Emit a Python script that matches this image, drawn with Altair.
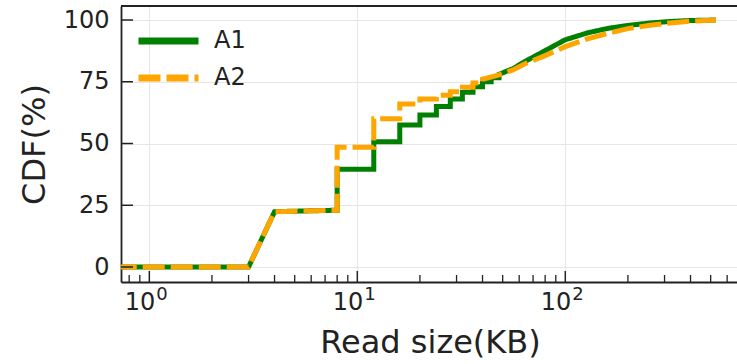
import altair as alt
import pandas as pd

# CDF of read sizes for two workloads (size in KB, cumulative %)
series_names = ["A1", "A2"]
series_colors = ["#008000", "#ffa500"]

a1_size = [0.5, 3, 4, 8, 8, 12, 12, 16, 16, 20, 20, 24, 24, 28, 28, 32, 32, 36, 36,
           40, 40, 44, 44, 48, 48, 56, 64, 80, 100, 128, 160, 200, 256, 320, 400, 530]
a1_cdf = [0, 0, 22.4, 23, 39.6, 39.6, 50.7, 50.7, 57.5, 57.5, 61.5, 61.5, 65, 65, 68, 68,
          70.8, 70.8, 73, 73, 75, 75, 76.6, 76.6, 78, 80.3, 83.2, 87.6, 92, 94.8, 96.6,
          97.8, 98.8, 99.4, 99.8, 100]

a2_size = [0.5, 3, 4, 8, 8, 12, 12, 16, 16, 20, 20, 24, 24, 28, 28, 32, 32, 36, 36,
           40, 40, 48, 56, 64, 80, 100, 128, 160, 200, 256, 320, 400, 530]
a2_cdf = [0, 0, 22.4, 23, 48.5, 48.5, 60, 60, 66, 66, 68, 68, 69.5, 69.5, 71, 71,
          72.8, 72.8, 74.5, 74.5, 76, 77.8, 79.8, 82.3, 85.6, 89.2, 92.4, 94.6, 96.5,
          97.9, 98.8, 99.5, 100]

# axis tick positions and decade labels
x_major = [1, 10, 100]
x_label_base = ["10", "10", "10"]
x_label_exp = ["0", "1", "2"]
x_minor = [0.8, 0.9, 2, 3, 4, 5, 6, 7, 8, 9, 20, 30, 40, 50, 60, 70, 80, 90,
           200, 300, 400, 500, 600]
y_major = [0, 25, 50, 75, 100]

W, H = 616, 276
INK = "#222222"
FONT = "DejaVu Sans"

rows = []
for name, sizes, cdfs in [("A1", a1_size, a1_cdf), ("A2", a2_size, a2_cdf)]:
    for i, (s, c) in enumerate(zip(sizes, cdfs)):
        rows.append({"series": name, "idx": i, "size": s, "cdf": c})
df = pd.DataFrame(rows)

x_scale = alt.Scale(type="log", domain=[0.7308, 669.2], nice=False)
y_scale = alt.Scale(domain=[-6.07, 105.67], nice=False, zero=False)

x_axis = alt.Axis(
    values=x_major, title="Read size(KB)", labels=False,
    titleX=309, titleY=70.7, titleBaseline="alphabetic", titleAlign="center",
)
y_axis = alt.Axis(
    values=y_major, title="CDF(%)", labelPadding=12,
    titleAngle=270, titleX=-77, titleY=H / 2,
    titleBaseline="alphabetic", titleAlign="center",
)

legend = alt.Legend(
    title=None, orient="none", legendX=14, legendY=16.5,
    symbolType="stroke", symbolSize=3600, symbolStrokeWidth=7,
    labelFont=FONT, labelFontSize=24, labelColor=INK, labelOffset=12,
    clipHeight=37, rowPadding=0, padding=0,
)

lines = alt.Chart(df).mark_line(clip=True, strokeWidth=5).encode(
    x=alt.X("size:Q", scale=x_scale, axis=x_axis),
    y=alt.Y("cdf:Q", scale=y_scale, axis=y_axis),
    color=alt.Color("series:N", scale=alt.Scale(domain=series_names, range=series_colors),
                    legend=legend),
    strokeDash=alt.StrokeDash("series:N",
                              scale=alt.Scale(domain=series_names, range=[[1, 0], [22, 6]]),
                              legend=legend),
    order=alt.Order("idx:Q"),
)

# inward-pointing tick marks
x_major_ticks = alt.Chart(pd.DataFrame({"size": x_major})).mark_rule(
    color=INK, strokeWidth=1.5).encode(
    x=alt.X("size:Q", scale=x_scale, axis=x_axis), y=alt.value(H), y2=alt.value(H - 11))
x_minor_ticks = alt.Chart(pd.DataFrame({"size": x_minor})).mark_rule(
    color=INK, strokeWidth=1.3).encode(
    x=alt.X("size:Q", scale=x_scale, axis=x_axis), y=alt.value(H), y2=alt.value(H - 7))
y_ticks = alt.Chart(pd.DataFrame({"cdf": y_major})).mark_rule(
    color=INK, strokeWidth=1.5).encode(
    y=alt.Y("cdf:Q", scale=y_scale, axis=y_axis), x=alt.value(0), x2=alt.value(12))

# decade labels: "10" with a raised exponent
label_df = pd.DataFrame({"size": x_major, "base": x_label_base, "exp": x_label_exp})
x_label_base_text = alt.Chart(label_df).mark_text(
    align="right", baseline="top", dx=6, font=FONT, fontSize=24, color=INK).encode(
    x=alt.X("size:Q", scale=x_scale, axis=x_axis), y=alt.value(H + 9), text="base:N")
x_label_exp_text = alt.Chart(label_df).mark_text(
    align="left", baseline="top", dx=7, font=FONT, fontSize=18, color=INK).encode(
    x=alt.X("size:Q", scale=x_scale, axis=x_axis), y=alt.value(H + 4), text="exp:N")

# top frame line
top_edge = alt.Chart(pd.DataFrame({"edge": ["top"]})).mark_rule(
    color=INK, strokeWidth=1.8).encode(
    x=alt.value(0), x2=alt.value(W), y=alt.value(0))

chart = alt.layer(
    lines, x_major_ticks, x_minor_ticks, y_ticks,
    x_label_base_text, x_label_exp_text, top_edge,
).properties(
    width=W, height=H,
    autosize=alt.AutoSizeParams(type="none"),
    padding={"left": 121, "top": 6, "right": 0, "bottom": 82},
).configure_view(stroke=None).configure_axis(
    domainColor=INK, domainWidth=1.8, ticks=False, tickSize=0,
    labelFont=FONT, labelFontSize=24, labelColor=INK,
    titleFont=FONT, titleFontSize=32, titleColor=INK, titleFontWeight="normal",
    gridColor="#e6e6e6", gridWidth=1,
)

chart.save("out.html", embed_options={"renderer": "svg", "actions": False})
